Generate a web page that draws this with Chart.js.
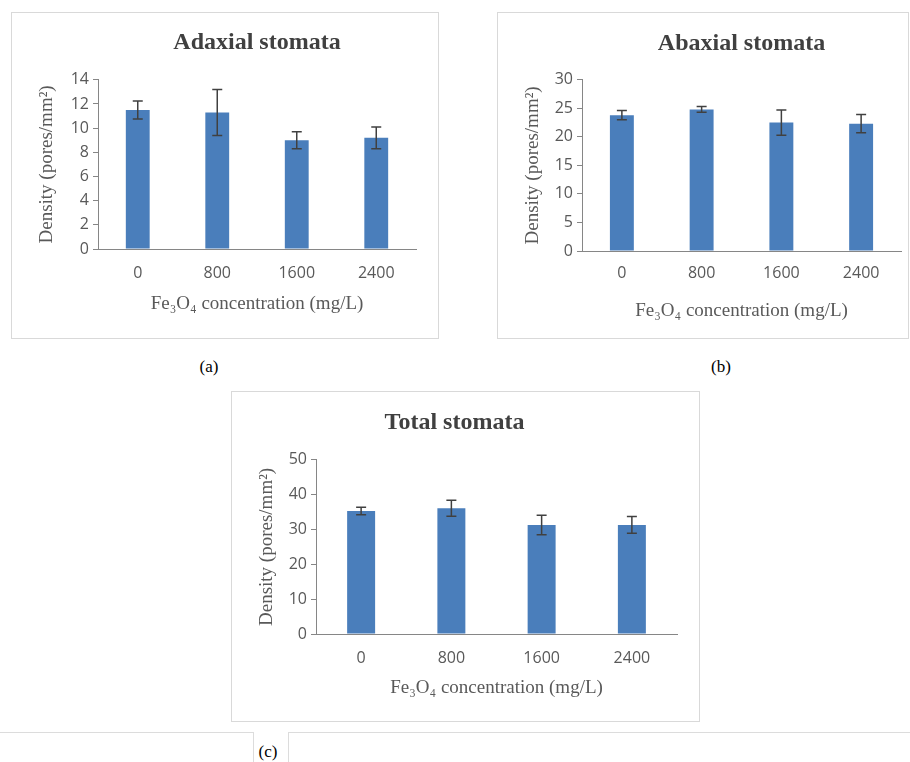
<!DOCTYPE html>
<html>
<head>
<meta charset="utf-8">
<script src="https://cdn.jsdelivr.net/npm/chart.js@4.4.0/dist/chart.umd.min.js"></script>
<style>
  body { margin: 0; width: 910px; height: 762px; position: relative; overflow: hidden; background: #fff; }
  .panel { position: absolute; box-sizing: border-box; border: 1px solid #d9d9d9; background: #fff; }
  .panel canvas { display: block; }
  .cap { position: absolute; font-family: 'Liberation Serif', serif; font-size: 17px; color: #000; transform: translate(-50%, -50%); }
  .rule { position: absolute; background: #dcdcdc; }
</style>
</head>
<body>
<div class="panel" style="left:11px; top:12px; width:428px; height:327px;"><canvas id="chartA"></canvas></div>
<div class="panel" style="left:497px; top:12px; width:412px; height:327px;"><canvas id="chartB"></canvas></div>
<div class="panel" style="left:231px; top:391px; width:469px; height:331px;"><canvas id="chartC"></canvas></div>

<div class="cap" style="left:209px; top:367px;">(a)</div>
<div class="cap" style="left:721px; top:367px;">(b)</div>
<div class="cap" style="left:268px; top:752px;">(c)</div>

<div class="rule" style="left:0; top:732px; width:253px; height:1px;"></div>
<div class="rule" style="left:288px; top:732px; width:622px; height:1px;"></div>
<div class="rule" style="left:253px; top:732px; width:1px; height:30px;"></div>
<div class="rule" style="left:288px; top:732px; width:1px; height:30px;"></div>

<script>
// concentrations of Fe3O4 (mg/L)
const concentrations = ['0', '800', '1600', '2400'];

// adaxial stomata density
const adaxialValues = [11.5, 11.3, 9.0, 9.2];
const adaxialErrors = [0.75, 1.9, 0.7, 0.9];

// abaxial stomata density
const abaxialValues = [23.8, 24.8, 22.5, 22.3];
const abaxialErrors = [0.8, 0.5, 2.2, 1.6];

// total stomata density
const totalValues = [35.3, 36.1, 31.3, 31.3];
const totalErrors = [1.1, 2.3, 2.8, 2.4];

const yTitle = 'Density (pores/mm\u00B2)';
const xTitle = 'Fe\u2083O\u2084 concentration (mg/L)';

const barColor = '#4a7ebb';
const axisColor = '#868686';
const textColor = '#595959';

// simple error bar drawing, uses the chart's own scales
const errorBarPlugin = {
    id: 'errorBars',
    afterDatasetsDraw(chart) {
        const ctx = chart.ctx;
        const yScale = chart.scales.y;
        chart.data.datasets.forEach((ds, di) => {
            const meta = chart.getDatasetMeta(di);
            if (!ds.errors) return;
            meta.data.forEach((bar, i) => {
                const v = ds.data[i];
                const e = ds.errors[i];
                const x = bar.x;
                const yTop = yScale.getPixelForValue(v + e);
                const yBot = yScale.getPixelForValue(v - e);
                ctx.save();
                ctx.strokeStyle = '#404040';
                ctx.lineWidth = 1.5;
                ctx.beginPath();
                ctx.moveTo(x, yTop);
                ctx.lineTo(x, yBot);
                ctx.moveTo(x - 5, yTop);
                ctx.lineTo(x + 5, yTop);
                ctx.moveTo(x - 5, yBot);
                ctx.lineTo(x + 5, yBot);
                ctx.stroke();
                ctx.restore();
            });
        });
    }
};

function makeChart(id, title, values, errors, yMax, step, lay) {
    return new Chart(document.getElementById(id), {
        type: 'bar',
        data: {
            labels: concentrations,
            datasets: [{
                data: values,
                errors: errors,
                backgroundColor: barColor,
                barPercentage: lay.barPct,
                categoryPercentage: 1.0
            }]
        },
        options: {
            responsive: true,
            maintainAspectRatio: false,
            animation: false,
            layout: { padding: { left: 0, right: lay.right, top: 0, bottom: 0 } },
            plugins: {
                legend: { display: false },
                tooltip: { enabled: false },
                title: {
                    display: true,
                    text: title,
                    fullSize: lay.titleFull,
                    color: '#404040',
                    font: { family: 'Liberation Serif', size: 24, weight: 'bold' },
                    padding: { top: lay.titleTop, bottom: lay.titleBottom }
                }
            },
            scales: {
                x: {
                    grid: { display: false, drawTicks: false },
                    border: { display: true, color: axisColor, width: 1 },
                    ticks: {
                        color: textColor,
                        font: { family: 'Open Sans', size: 16 },
                        padding: lay.xTickPad
                    },
                    title: {
                        display: true,
                        text: xTitle,
                        color: textColor,
                        font: { family: 'Liberation Serif', size: 19 },
                        padding: { top: 0, bottom: lay.xTitlePad }
                    },
                    afterFit(scale) { scale.height = lay.xHeight; }
                },
                y: {
                    min: 0,
                    max: yMax,
                    grid: {
                        display: true,
                        drawOnChartArea: false,
                        drawTicks: true,
                        tickLength: 5,
                        color: axisColor
                    },
                    border: { display: true, color: axisColor, width: 1 },
                    ticks: {
                        stepSize: step,
                        color: textColor,
                        font: { family: 'Open Sans', size: 16 },
                        padding: 4
                    },
                    title: {
                        display: true,
                        text: yTitle,
                        color: textColor,
                        font: { family: 'Liberation Serif', size: 19 },
                        padding: { top: 24, bottom: 0 }
                    },
                    afterFit(scale) { scale.width = lay.yWidth; }
                }
            }
        },
        plugins: [errorBarPlugin]
    });
}

makeChart('chartA', 'Adaxial stomata', adaxialValues, adaxialErrors, 14, 2, {
    right: 22, yWidth: 86, xHeight: 89, xTickPad: 15, xTitlePad: 23,
    titleTop: 15, titleBottom: 23, titleFull: false, barPct: 0.3
});
makeChart('chartB', 'Abaxial stomata', abaxialValues, abaxialErrors, 30, 5, {
    right: 7, yWidth: 84, xHeight: 87, xTickPad: 13, xTitlePad: 16,
    titleTop: 16, titleBottom: 22, titleFull: false, barPct: 0.3
});
makeChart('chartC', 'Total stomata', totalValues, totalErrors, 50, 10, {
    right: 22, yWidth: 84, xHeight: 87, xTickPad: 15, xTitlePad: 22,
    titleTop: 16, titleBottom: 23, titleFull: true, barPct: 0.31
});
</script>
</body>
</html>
